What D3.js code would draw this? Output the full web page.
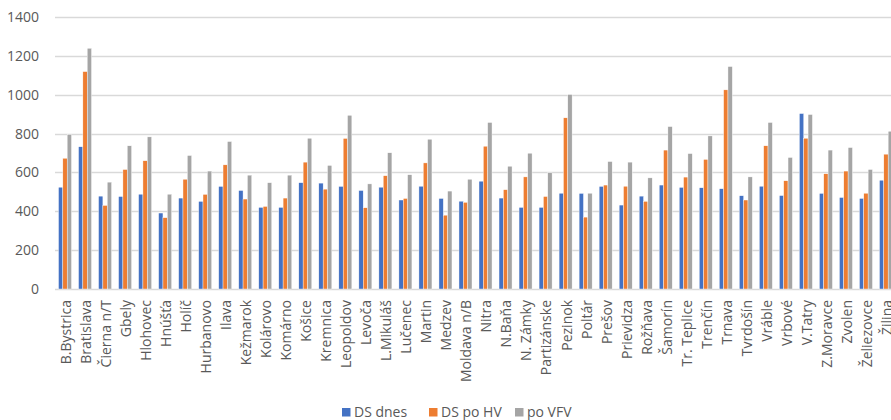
<!DOCTYPE html>
<html>
<head>
<meta charset="utf-8">
<script src="https://cdn.jsdelivr.net/npm/d3@7"></script>
<style>
  body { margin: 0; background: #fff; }
  svg text { font-family: "Open Sans", "Liberation Sans", Arial, sans-serif; fill: #595959; }
</style>
</head>
<body>
<div id="viz"></div>
<script>
var cities = ['B.Bystrica', 'Bratislava', 'Čierna n/T', 'Gbely', 'Hlohovec', 'Hnúšťa', 'Holíč', 'Hurbanovo',
  'Ilava', 'Kežmarok', 'Kolárovo', 'Komárno', 'Košice', 'Kremnica', 'Leopoldov', 'Levoča', 'L.Mikuláš',
  'Lučenec', 'Martin', 'Medzev', 'Moldava n/B', 'Nitra', 'N.Baňa', 'N. Zámky', 'Partizánske', 'Pezinok',
  'Poltár', 'Prešov', 'Prievidza', 'Rožňava', 'Šamorín', 'Tr. Teplice', 'Trenčín', 'Trnava', 'Tvrdošín',
  'Vráble', 'Vrbové', 'V.Tatry', 'Z.Moravce', 'Zvolen', 'Želiezovce', 'Žilina'];

var dsDnes = [524, 732, 478, 476, 488, 391, 468, 451, 528, 507, 420, 420, 547, 545, 528, 507, 524,
  458, 529, 466, 452, 555, 468, 420, 420, 493, 492, 528, 432, 478, 535, 523, 521, 516, 480,
  529, 481, 903, 492, 471, 466, 560];
var dsPoHV = [673, 1119, 430, 615, 660, 367, 565, 487, 639, 463, 425, 468, 653, 514, 775, 418, 583,
  466, 649, 380, 446, 735, 511, 577, 476, 881, 370, 535, 529, 451, 715, 576, 667, 1025, 458,
  737, 557, 776, 593, 607, 493, 694];
var poVFV = [795, 1239, 550, 737, 783, 488, 687, 607, 759, 586, 547, 586, 776, 636, 894, 541, 701,
  588, 771, 504, 565, 857, 632, 699, 598, 1001, 493, 656, 653, 572, 836, 697, 788, 1145, 577,
  857, 677, 898, 715, 728, 615, 812];

var seriesNames = ['DS dnes', 'DS po HV', 'po VFV'];
var seriesValues = [dsDnes, dsPoHV, poVFV];
var colors = ['#4472C4', '#ED7D31', '#A5A5A5'];
var yTicks = [0, 200, 400, 600, 800, 1000, 1200, 1400];

var chart = {width: 891, height: 420};
var plot = {left: 55, right: 896, top: 17, bottom: 289};

var svg = d3.select('#viz').append('svg')
  .attr('width', chart.width)
  .attr('height', chart.height);

var y = d3.scaleLinear().domain([0, 1400]).range([plot.bottom, plot.top]);

var x0 = d3.scaleBand().domain(cities).range([plot.left, plot.right])
  .paddingInner(0.35).paddingOuter(0.175);
var x1 = d3.scaleBand().domain(seriesNames).range([0, x0.bandwidth()]);

// gridlines
svg.append('g')
  .selectAll('line')
  .data(yTicks)
  .enter()
  .append('line')
  .attr('x1', plot.left)
  .attr('x2', chart.width)
  .attr('y1', (d) => Math.round(y(d)) + 0.5)
  .attr('y2', (d) => Math.round(y(d)) + 0.5)
  .attr('stroke', '#d9d9d9')
  .attr('stroke-width', 1.3);

// y labels
var yAxis = d3.axisLeft(y).tickValues(yTicks).tickSize(0).tickPadding(0).tickFormat(d3.format('d'));
svg.append('g')
  .attr('transform', 'translate(39,0)')
  .call(yAxis)
  .call((g) => g.select('.domain').remove())
  .selectAll('text')
  .style('font-size', '14px')
  .attr('fill', '#595959')
  .attr('font-family', null);

// bars
var groups = svg.append('g')
  .selectAll('g')
  .data(cities)
  .enter()
  .append('g')
  .attr('transform', (d) => 'translate(' + x0(d) + ',0)');

groups.selectAll('rect')
  .data((d, i) => seriesNames.map((s, k) => ({s: s, v: seriesValues[k][i], c: colors[k]})))
  .enter()
  .append('rect')
  .attr('x', (d) => x1(d.s))
  .attr('width', x1.bandwidth())
  .attr('y', (d) => y(d.v))
  .attr('height', (d) => y(0) - y(d.v))
  .attr('fill', (d) => d.c)
  .attr('stroke', '#fff')
  .attr('stroke-width', 0.4);

// x labels
var xAxis = d3.axisBottom(x0).tickSize(0).tickPadding(0);
svg.append('g')
  .attr('transform', 'translate(0,' + plot.bottom + ')')
  .call(xAxis)
  .call((g) => g.select('.domain').remove())
  .selectAll('text')
  .style('font-size', '14px')
  .attr('fill', '#595959')
  .attr('font-family', null)
  .attr('text-anchor', 'end')
  .attr('transform', 'rotate(-90)')
  .attr('x', -11)
  .attr('y', 1)
  .attr('dy', '0.35em');

// legend
var legendX = [342, 429, 515];
var legend = svg.append('g').attr('id', 'legend');
var items = legend.selectAll('g')
  .data(seriesNames)
  .enter()
  .append('g')
  .attr('transform', (d, i) => 'translate(' + legendX[i] + ',412)');
items.append('rect')
  .attr('x', 0).attr('y', -4)
  .attr('width', 8.5).attr('height', 8.5)
  .attr('fill', (d, i) => colors[i]);
items.append('text')
  .attr('x', 12)
  .attr('dy', '0.35em')
  .style('font-size', '14px')
  .text((d) => d);
</script>
</body>
</html>
